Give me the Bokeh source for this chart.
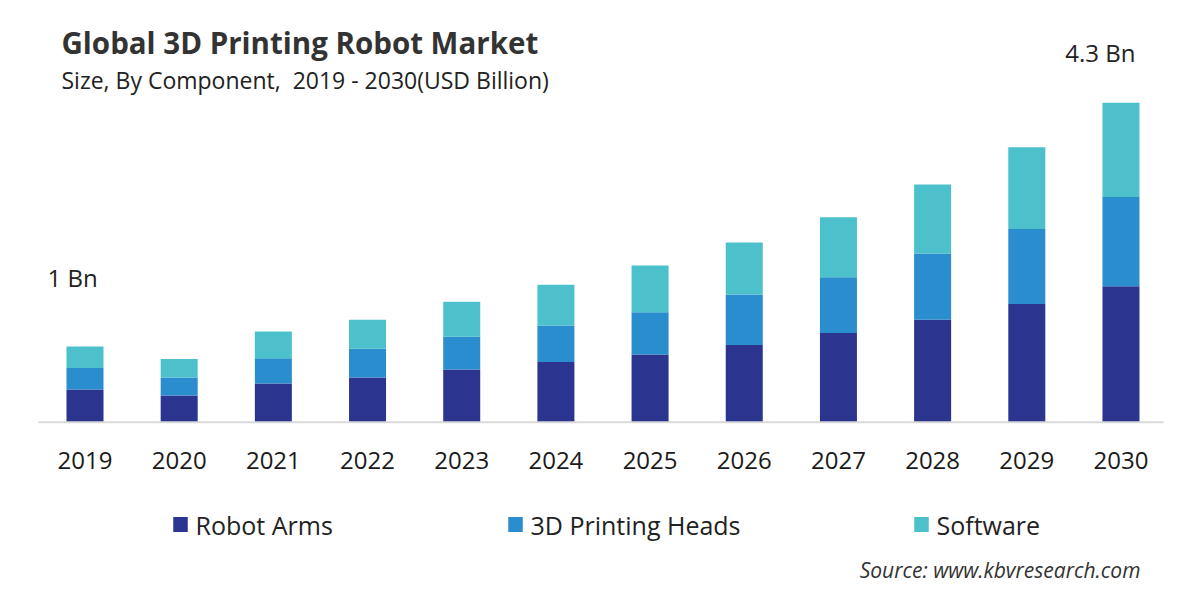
from bokeh.plotting import figure
from bokeh.models import ColumnDataSource, Range1d
from bokeh.core.properties import value
from bokeh.embed import file_html
from bokeh.resources import INLINE

# ---- data ----
years = [2019, 2020, 2021, 2022, 2023, 2024, 2025, 2026, 2027, 2028, 2029, 2030]
year_labels = ["2019", "2020", "2021", "2022", "2023", "2024", "2025", "2026", "2027", "2028", "2029", "2030"]
robot_arms = [0.44, 0.36, 0.52, 0.60, 0.71, 0.81, 0.91, 1.04, 1.20, 1.38, 1.59, 1.83]
printing_heads = [0.29, 0.24, 0.34, 0.39, 0.44, 0.49, 0.57, 0.68, 0.75, 0.89, 1.01, 1.20]
software = [0.29, 0.25, 0.36, 0.39, 0.47, 0.55, 0.63, 0.70, 0.81, 0.93, 1.10, 1.27]
series_names = ["Robot Arms", "3D Printing Heads", "Software"]
colors = ["#2b3590", "#2a8dcd", "#4cc1cc"]
title_text = "Global 3D Printing Robot Market"
subtitle_text = "Size, By Component,\u00a0 2019 - 2030(USD Billion)"
start_label = "1 Bn"
end_label = "4.3 Bn"
source_text = "Source: www.kbvresearch.com"

# ---- layout helpers (picture pixel -> data) ----
W, H = 1184, 584
OFF = 0
X0_PX, STEP_PX = 84.5, 94.18     # centre of first bar, spacing
BASE_PX, UNIT_PX = 421.7, 74.3   # baseline, px per billion

def px_x(ix):
    return years[0] + (ix - X0_PX) / STEP_PX

def px_y(iy):
    return (BASE_PX - iy) / UNIT_PX

p = figure(width=W, height=H, output_backend="svg", toolbar_location=None,
           x_range=Range1d(px_x(OFF), px_x(OFF + W)), y_range=Range1d(px_y(OFF + H), px_y(OFF)),
           x_axis_location=None, y_axis_location=None,
           min_border=0, min_border_left=0, min_border_right=0,
           min_border_top=0, min_border_bottom=0)
p.outline_line_color = None
p.xgrid.visible = False
p.ygrid.visible = False
p.background_fill_color = "white"
p.border_fill_color = "white"

src = ColumnDataSource(dict(year=years, **{series_names[0]: robot_arms,
                                           series_names[1]: printing_heads,
                                           series_names[2]: software}))
p.vbar_stack(series_names, x="year", width=0.393, color=colors, line_color=None, source=src)

# baseline
p.segment(x0=[px_x(38)], y0=[0], x1=[px_x(1163)], y1=[0], line_color="#d9d9d9", line_width=2)

# year labels
p.text(x=years, y=[px_y(460)] * len(years), text=year_labels, text_align="center",
       text_baseline="middle", text_font=value("Open Sans"), text_font_size="24px",
       text_color="#1a1a1a")

# title & subtitle
p.text(x=[px_x(61)], y=[px_y(42)], text=[title_text], text_align="left", text_baseline="middle",
       text_font=value("Open Sans"), text_font_style="bold", text_font_size="29.5px", text_color="#333333")
p.text(x=[px_x(61)], y=[px_y(79)], text=[subtitle_text], text_align="left", text_baseline="middle",
       text_font=value("Open Sans"), text_font_size="23px", text_color="#222222")

# value annotations
p.text(x=[px_x(47)], y=[px_y(277)], text=[start_label], text_align="left", text_baseline="middle",
       text_font=value("Open Sans"), text_font_size="24px", text_color="#222222")
p.text(x=[px_x(1135)], y=[px_y(52)], text=[end_label], text_align="right", text_baseline="middle",
       text_font=value("Open Sans"), text_font_size="24px", text_color="#222222")

# legend
leg_sq_x = [180, 515, 921]
leg_y = 524
p.rect(x=[px_x(v) for v in leg_sq_x], y=[px_y(leg_y)] * 3, width=14.5 / STEP_PX, height=15 / UNIT_PX,
       fill_color=colors, line_color=None)
p.text(x=[px_x(v + 15) for v in leg_sq_x], y=[px_y(leg_y)] * 3, text=series_names, text_align="left",
       text_baseline="middle", text_font=value("Open Sans"), text_font_size="25px", text_color="#222222")

# source
p.text(x=[px_x(1140)], y=[px_y(569)], text=[source_text], text_align="right", text_baseline="middle",
       text_font=value("Open Sans"), text_font_style="italic", text_font_size="21px", text_color="#333333")

open("out.html", "w").write(file_html(p, INLINE))
